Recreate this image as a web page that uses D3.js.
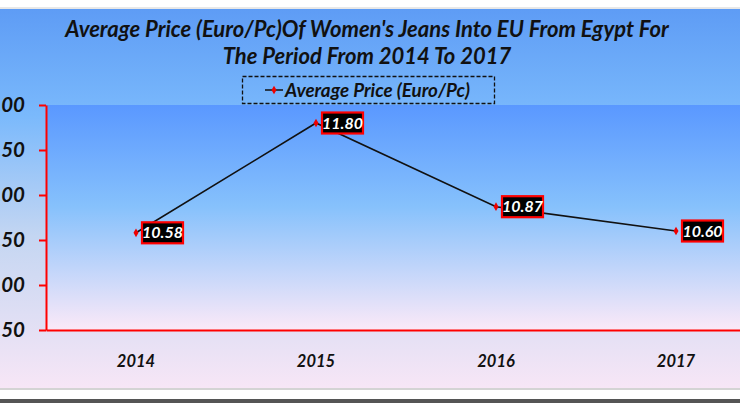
<!DOCTYPE html>
<html>
<head>
<meta charset="utf-8">
<script src="https://cdn.jsdelivr.net/npm/d3@7"></script>
<style>
  body { margin: 0; background: #fff; }
  text { font-family: Lato, "Open Sans", sans-serif; font-style: italic; font-weight: bold; }
</style>
</head>
<body>
<svg id="chart" width="740" height="403"></svg>
<script>
const years = ['2014', '2015', '2016', '2017'];
const prices = [10.58, 11.80, 10.87, 10.60];
const yTicks = [9.5, 10, 10.5, 11, 11.5, 12];
const titleLines = ["Average Price (Euro/Pc)Of Women's Jeans Into EU From Egypt For", 'The Period From 2014 To 2017'];
const seriesName = 'Average Price (Euro/Pc)';

var svg = d3.select('#chart');
var defs = svg.append('defs');

var outerGrad = defs.append('linearGradient').attr('id', 'outerGrad')
  .attr('x1', 0).attr('y1', 0).attr('x2', 0).attr('y2', 1);
outerGrad.append('stop').attr('offset', '0%').attr('stop-color', '#5e9cf5');
outerGrad.append('stop').attr('offset', '28%').attr('stop-color', '#7ab9fc');
outerGrad.append('stop').attr('offset', '60%').attr('stop-color', '#c4d6f2');
outerGrad.append('stop').attr('offset', '100%').attr('stop-color', '#f7e6f6');

var plotGrad = defs.append('linearGradient').attr('id', 'plotGrad')
  .attr('x1', 0).attr('y1', 0).attr('x2', 0).attr('y2', 1);
plotGrad.append('stop').attr('offset', '0%').attr('stop-color', '#5a98ff');
plotGrad.append('stop').attr('offset', '45%').attr('stop-color', '#86c1fc');
plotGrad.append('stop').attr('offset', '100%').attr('stop-color', '#fbe9f8');

// frame
svg.append('rect').attr('x', 0).attr('y', 9).attr('width', 740).attr('height', 379)
  .attr('fill', 'url(#outerGrad)');
svg.append('line').attr('x1', 0).attr('x2', 740).attr('y1', 8).attr('y2', 8)
  .attr('stroke', '#d0d0d0').attr('stroke-width', 1);
svg.append('line').attr('x1', 0).attr('x2', 740).attr('y1', 389).attr('y2', 389)
  .attr('stroke', '#d4d4d4').attr('stroke-width', 2);
svg.append('rect').attr('x', 0).attr('y', 399).attr('width', 740).attr('height', 4)
  .attr('fill', '#555');

var plotLeft = 46, plotTop = 105, plotBottom = 330;
var x = d3.scaleBand().domain(years).range([plotLeft, plotLeft + 720]);
var y = d3.scaleLinear().domain([9.5, 12]).range([plotBottom, plotTop]);

svg.append('rect').attr('x', plotLeft).attr('y', plotTop)
  .attr('width', 740 - plotLeft).attr('height', plotBottom - plotTop)
  .attr('fill', 'url(#plotGrad)');

// title
svg.append('g').selectAll('text').data(titleLines).enter().append('text')
  .attr('x', 367).attr('y', (d, i) => 37 + i * 27)
  .attr('text-anchor', 'middle').attr('font-size', 22).attr('fill', '#111')
  .text(d => d);

// legend
var legend = svg.append('g');
legend.append('rect').attr('x', 242.5).attr('y', 76.5).attr('width', 252).attr('height', 27)
  .attr('fill', 'none').attr('stroke', '#111').attr('stroke-width', 1.3).attr('stroke-dasharray', '4,2');
legend.append('line').attr('x1', 265).attr('x2', 283).attr('y1', 90).attr('y2', 90)
  .attr('stroke', '#111').attr('stroke-width', 1.5);
legend.append('path').attr('d', d3.symbol(d3.symbolDiamond, 22)()).attr('transform', 'translate(274,90)')
  .attr('fill', '#e00');
legend.append('text').attr('x', 285).attr('y', 96.5).attr('font-size', 18.8).attr('fill', '#111')
  .text(seriesName);

// axes
var yAxis = svg.append('g').attr('transform', 'translate(' + plotLeft + ',0)')
  .call(d3.axisLeft(y).tickValues(yTicks).tickFormat(d3.format('.2f')).tickSize(7).tickSizeOuter(0));
yAxis.select('.domain').attr('stroke', '#f00').attr('stroke-width', 2);
yAxis.selectAll('.tick line').attr('stroke', '#f00').attr('stroke-width', 2);
yAxis.selectAll('.tick text').attr('x', -21).attr('font-size', 20.5).attr('fill', '#111')
  .style('font-family', 'Lato, sans-serif');

var xAxis = svg.append('g').attr('transform', 'translate(0,' + plotBottom + ')')
  .call(d3.axisBottom(x).tickSize(0).tickSizeOuter(0));
xAxis.select('.domain').attr('stroke', '#f00').attr('stroke-width', 2);
xAxis.selectAll('.tick text').attr('y', 25).attr('font-size', 16.5).attr('fill', '#111')
  .style('font-family', 'Lato, sans-serif');

// series
var cx = d => x(d.year) + x.bandwidth() / 2;
var points = years.map((yr, i) => ({ year: yr, value: prices[i] }));

svg.append('path').datum(points)
  .attr('fill', 'none').attr('stroke', '#111').attr('stroke-width', 1.6)
  .attr('d', d3.line().x(cx).y(d => y(d.value)));

svg.append('g').selectAll('path').data(points).enter().append('path')
  .attr('d', d3.symbol(d3.symbolDiamond, 22)())
  .attr('transform', d => 'translate(' + cx(d) + ',' + y(d.value) + ')')
  .attr('fill', '#e00');

var labels = svg.append('g').selectAll('g').data(points).enter().append('g')
  .attr('transform', d => 'translate(' + (cx(d) + 6) + ',' + y(d.value) + ')');
labels.append('rect').attr('x', 0).attr('y', -10.5).attr('width', 41).attr('height', 21)
  .attr('fill', '#000').attr('stroke', '#f00').attr('stroke-width', 2.2);
labels.append('text').attr('x', 20.5).attr('y', 5.5).attr('text-anchor', 'middle')
  .attr('font-size', 16).attr('fill', '#fff')
  .text(d => d.value.toFixed(2));
</script>
</body>
</html>
